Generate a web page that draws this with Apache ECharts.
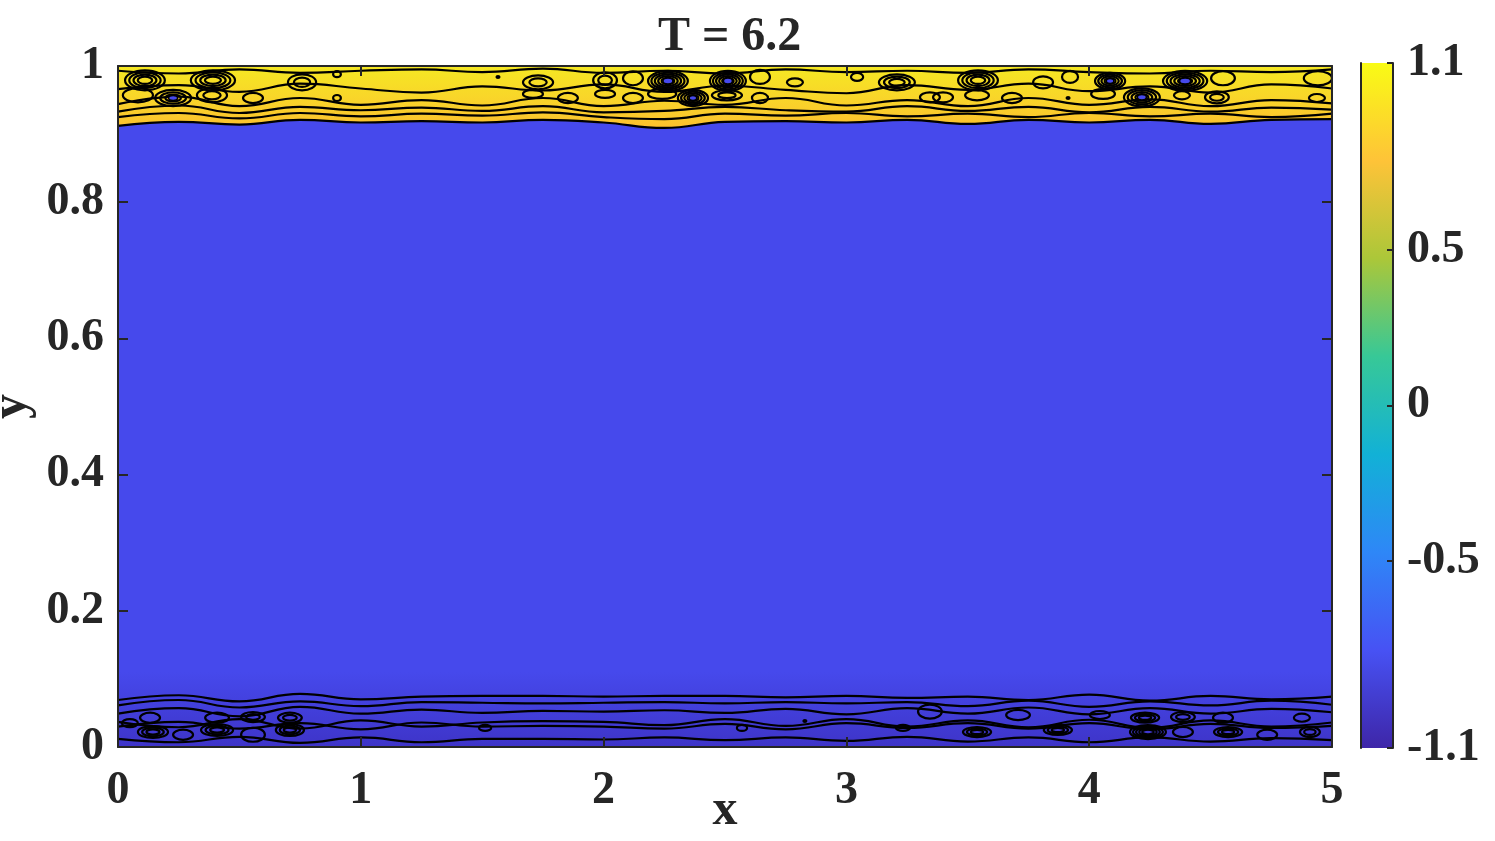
<!DOCTYPE html>
<html>
<head>
<meta charset="utf-8">
<title>T = 6.2</title>
<script src="https://cdn.jsdelivr.net/npm/echarts@6.0.0/dist/echarts.min.js"></script>
<style>
  html, body { margin: 0; padding: 0; background: #fff; }
  #chart { width: 1495px; height: 841px; }
</style>
</head>
<body>
<div id="chart"></div>
<script>
  // sample positions along x for the contour lines
  const contourX = [0, 0.25, 0.5, 0.75, 1, 1.25, 1.5, 1.75, 2, 2.25, 2.5, 2.75, 3, 3.25, 3.5, 3.75, 4, 4.25, 4.5, 4.75, 5]

  // edge of the yellow band (phi ~ 0)
  const topEdge = [0.912, 0.918, 0.914, 0.921, 0.917, 0.919, 0.917, 0.921, 0.917, 0.909, 0.918, 0.919, 0.917, 0.921, 0.915, 0.921, 0.917, 0.921, 0.915, 0.921, 0.922]
  // other contour lines in the top band
  const topLine1 = [0.925, 0.931, 0.923, 0.931, 0.926, 0.930, 0.927, 0.932, 0.925, 0.922, 0.930, 0.927, 0.931, 0.926, 0.930, 0.925, 0.931, 0.926, 0.930, 0.925, 0.930]
  const topLine2 = [0.933, 0.942, 0.931, 0.940, 0.935, 0.939, 0.934, 0.941, 0.932, 0.934, 0.940, 0.935, 0.933, 0.941, 0.934, 0.940, 0.932, 0.940, 0.933, 0.939, 0.936]
  const topLine3 = [0.944, 0.955, 0.941, 0.953, 0.943, 0.950, 0.942, 0.953, 0.941, 0.949, 0.943, 0.953, 0.942, 0.950, 0.941, 0.953, 0.943, 0.951, 0.941, 0.950, 0.945]
  const topLine4 = [0.966, 0.972, 0.962, 0.974, 0.967, 0.961, 0.970, 0.964, 0.973, 0.962, 0.971, 0.965, 0.960, 0.972, 0.965, 0.974, 0.963, 0.970, 0.961, 0.973, 0.967]
  const topLine5 = [0.993, 0.989, 0.995, 0.990, 0.993, 0.995, 0.991, 0.996, 0.990, 0.993, 0.989, 0.995, 0.991, 0.993, 0.990, 0.995, 0.991, 0.989, 0.993, 0.991, 0.995]
  // contour lines in the bottom band
  const botLine1 = [0.069, 0.076, 0.067, 0.078, 0.070, 0.074, 0.075, 0.075, 0.074, 0.075, 0.075, 0.073, 0.075, 0.072, 0.074, 0.069, 0.077, 0.068, 0.075, 0.070, 0.074]
  const botLine2 = [0.061, 0.069, 0.058, 0.067, 0.060, 0.066, 0.065, 0.064, 0.065, 0.066, 0.064, 0.066, 0.064, 0.066, 0.060, 0.068, 0.059, 0.067, 0.061, 0.068, 0.062]
  const botLine3 = [0.049, 0.057, 0.045, 0.059, 0.049, 0.055, 0.050, 0.053, 0.052, 0.054, 0.050, 0.056, 0.048, 0.057, 0.049, 0.058, 0.048, 0.057, 0.049, 0.056, 0.051]
  const botLine4 = [0.037, 0.029, 0.041, 0.027, 0.039, 0.030, 0.036, 0.038, 0.037, 0.032, 0.041, 0.031, 0.041, 0.030, 0.039, 0.029, 0.040, 0.028, 0.039, 0.030, 0.036]
  const botLine5 = [0.030, 0.037, 0.027, 0.035, 0.026, 0.036, 0.030, 0.031, 0.030, 0.027, 0.034, 0.026, 0.035, 0.028, 0.035, 0.027, 0.035, 0.026, 0.034, 0.028, 0.031]
  const botLine6 = [0.012, 0.007, 0.015, 0.006, 0.014, 0.007, 0.012, 0.012, 0.011, 0.014, 0.010, 0.014, 0.009, 0.015, 0.008, 0.014, 0.007, 0.014, 0.008, 0.013, 0.010]

  // closed contours: [x, y, half-width, half-height, rings, core (0 none, 1 blue, 2 black dot)]
  const topVortices = [
    [0.111, 0.979, 0.082, 0.0147, 4, 0], [0.227, 0.953, 0.074, 0.0118, 3, 1], [0.082, 0.957, 0.062, 0.0103, 1, 0],
    [0.391, 0.979, 0.091, 0.0147, 4, 0], [0.387, 0.957, 0.062, 0.0103, 2, 0], [0.556, 0.953, 0.041, 0.0074, 1, 0],
    [0.758, 0.976, 0.058, 0.0118, 2, 0], [0.902, 0.988, 0.016, 0.0044, 1, 0], [0.902, 0.953, 0.016, 0.0044, 1, 0],
    [1.565, 0.984, 0.008, 0.0030, 1, 2], [1.730, 0.976, 0.062, 0.0103, 2, 0], [1.709, 0.959, 0.041, 0.0059, 1, 0],
    [1.853, 0.953, 0.041, 0.0074, 1, 0], [2.006, 0.979, 0.049, 0.0118, 2, 0], [2.006, 0.959, 0.041, 0.0059, 1, 0],
    [2.121, 0.982, 0.041, 0.0103, 1, 0], [2.121, 0.953, 0.041, 0.0074, 1, 0], [2.265, 0.978, 0.082, 0.0147, 5, 1],
    [2.241, 0.959, 0.058, 0.0074, 1, 0], [2.368, 0.953, 0.062, 0.0118, 4, 1], [2.512, 0.978, 0.074, 0.0147, 5, 1],
    [2.508, 0.957, 0.062, 0.0074, 2, 0], [2.644, 0.984, 0.041, 0.0103, 1, 0], [2.644, 0.953, 0.033, 0.0074, 1, 0],
    [2.788, 0.976, 0.033, 0.0059, 1, 0], [3.044, 0.984, 0.025, 0.0059, 1, 0], [3.208, 0.976, 0.074, 0.0118, 3, 0],
    [3.344, 0.954, 0.041, 0.0074, 1, 0], [3.542, 0.979, 0.082, 0.0147, 4, 0], [3.538, 0.957, 0.049, 0.0074, 1, 0],
    [3.398, 0.954, 0.041, 0.0074, 1, 0], [3.682, 0.953, 0.041, 0.0074, 1, 0], [3.810, 0.976, 0.041, 0.0088, 1, 0],
    [3.921, 0.984, 0.033, 0.0088, 1, 0], [3.913, 0.953, 0.006, 0.0030, 1, 2], [4.086, 0.978, 0.062, 0.0118, 4, 1],
    [4.057, 0.959, 0.049, 0.0074, 1, 0], [4.217, 0.954, 0.074, 0.0133, 4, 1], [4.395, 0.978, 0.091, 0.0147, 5, 1],
    [4.382, 0.957, 0.033, 0.0059, 1, 0], [4.526, 0.954, 0.049, 0.0088, 2, 0], [4.551, 0.982, 0.049, 0.0103, 1, 0],
    [4.942, 0.982, 0.058, 0.0103, 1, 0], [4.938, 0.953, 0.033, 0.0059, 1, 0]
  ]
  const botVortices = [
    [0.132, 0.043, 0.041, 0.0074, 1, 0], [0.144, 0.022, 0.062, 0.0088, 3, 0], [0.049, 0.035, 0.033, 0.0059, 1, 0],
    [0.268, 0.018, 0.041, 0.0074, 1, 0], [0.408, 0.043, 0.049, 0.0074, 1, 0], [0.408, 0.025, 0.066, 0.0088, 3, 0],
    [0.556, 0.044, 0.049, 0.0074, 2, 0], [0.556, 0.018, 0.049, 0.0103, 1, 0], [0.708, 0.043, 0.049, 0.0074, 2, 0],
    [0.708, 0.025, 0.058, 0.0088, 3, 0], [1.512, 0.028, 0.025, 0.0044, 1, 0], [2.570, 0.028, 0.021, 0.0044, 1, 0],
    [2.829, 0.038, 0.012, 0.0030, 1, 2], [3.233, 0.028, 0.029, 0.0044, 1, 0], [3.344, 0.052, 0.049, 0.0103, 1, 0],
    [3.538, 0.022, 0.058, 0.0074, 3, 0], [3.707, 0.047, 0.049, 0.0074, 1, 0], [3.871, 0.025, 0.058, 0.0074, 3, 0],
    [4.044, 0.047, 0.041, 0.0059, 1, 0], [4.230, 0.043, 0.058, 0.0074, 3, 0], [4.242, 0.022, 0.074, 0.0103, 5, 0],
    [4.386, 0.044, 0.049, 0.0074, 2, 0], [4.386, 0.022, 0.041, 0.0074, 1, 0], [4.551, 0.043, 0.041, 0.0074, 1, 0],
    [4.572, 0.022, 0.058, 0.0074, 3, 0], [4.733, 0.018, 0.041, 0.0074, 1, 0], [4.909, 0.022, 0.041, 0.0074, 2, 0],
    [4.876, 0.043, 0.033, 0.0059, 1, 0]
  ]

  // colour bar
  const cbarMin = -1.1
  const cbarMax = 1.1
  const cbarTicks = [-1.1, -0.5, 0, 0.5, 1.1]
  const parula = ['#f9fb15', '#fec338', '#abc739', '#37c897', '#12b1d6', '#2e87f7', '#4752f4', '#3e26a8']

  const font = 'Liberation Serif, Times New Roman, serif'
  const ink = '#262626'
  const blue = '#4649ec'

  const chart = echarts.init(document.getElementById('chart'))

  function pairs(ys) {
    return contourX.map((x, i) => [x, ys[i]])
  }

  function contour(ys) {
    return {
      type: 'line',
      data: pairs(ys),
      smooth: 0.45,
      symbol: 'none',
      silent: true,
      z: 3,
      lineStyle: {color: '#000', width: 2.2}
    }
  }

  function renderVortex(params, api) {
    const c = api.coord([api.value(0), api.value(1)])
    const s = api.size([api.value(2), api.value(3)])
    const rings = api.value(4)
    const core = api.value(5)
    const children = []
    if (core === 2) {
      children.push({type: 'ellipse', shape: {cx: c[0], cy: c[1], rx: 2.5, ry: 2}, style: {fill: '#000'}})
      return {type: 'group', children}
    }
    for (let k = rings; k >= 1; k--) {
      const f = 0.15 + 0.85 * k / rings
      children.push({
        type: 'ellipse',
        shape: {cx: c[0], cy: c[1], rx: s[0] * f, ry: s[1] * f},
        style: {fill: 'none', stroke: '#000', lineWidth: 2.2}
      })
    }
    if (core === 1) {
      children.push({
        type: 'ellipse',
        shape: {cx: c[0], cy: c[1], rx: s[0] * 0.25, ry: s[1] * 0.3},
        style: {fill: blue, stroke: '#000', lineWidth: 1.5}
      })
    }
    return {type: 'group', children}
  }

  function renderBar(params, api) {
    const p0 = api.coord([0, api.value(1)])
    const p1 = api.coord([1, api.value(0)])
    return {
      type: 'rect',
      shape: {x: p0[0], y: p0[1], width: p1[0] - p0[0], height: p1[1] - p0[1]},
      style: {
        fill: new echarts.graphic.LinearGradient(0, 0, 0, 1,
          parula.map((c, i) => ({offset: i / (parula.length - 1), color: c})))
      }
    }
  }

  const tickFont = {fontFamily: font, fontWeight: 'bold', fontSize: 46, color: ink}

  const option = {
    animation: false,
    title: {
      text: 'T = 6.2',
      left: 653,
      top: 9,
      textStyle: {fontFamily: font, fontWeight: 'bold', fontSize: 48, color: ink}
    },
    grid: [
      {
        left: 118, right: 163, top: 66, bottom: 94,
        outerBoundsMode: 'none',
        containLabel: false,
        show: true,
        borderWidth: 0,
        backgroundColor: new echarts.graphic.LinearGradient(0, 0, 0, 1, [
          {offset: 0, color: blue},
          {offset: 0.89, color: blue},
          {offset: 1, color: '#3e34c8'}
        ])
      },
      {left: 1361, width: 32, top: 63, bottom: 93, show: false, outerBoundsMode: 'none', containLabel: false}
    ],
    xAxis: [
      {
        type: 'value', gridIndex: 0, min: 0, max: 5, interval: 1, z: 10,
        name: 'x', nameLocation: 'middle', nameGap: 39, nameMoveOverlap: false,
        nameTextStyle: {fontFamily: font, fontWeight: 'bold', fontSize: 50, color: ink},
        axisLine: {show: true, onZero: false, lineStyle: {color: ink, width: 2}},
        axisTick: {show: true, inside: true, length: 10, lineStyle: {color: ink, width: 2}},
        axisLabel: Object.assign({margin: 21}, tickFont),
        splitLine: {show: false}
      },
      {
        type: 'value', gridIndex: 0, min: 0, max: 5, interval: 1, position: 'top', z: 10,
        axisLine: {show: true, onZero: false, lineStyle: {color: ink, width: 2}},
        axisTick: {show: true, inside: true, length: 10, lineStyle: {color: ink, width: 2}},
        axisLabel: {show: false},
        splitLine: {show: false}
      },
      {type: 'value', gridIndex: 1, min: 0, max: 1, show: false}
    ],
    yAxis: [
      {
        type: 'value', gridIndex: 0, min: 0, max: 1, interval: 0.2, z: 10,
        name: 'y', nameLocation: 'middle', nameGap: 81, nameRotate: 90, nameMoveOverlap: false,
        nameTextStyle: {fontFamily: font, fontWeight: 'bold', fontSize: 50, color: ink},
        axisLine: {show: true, onZero: false, lineStyle: {color: ink, width: 2}},
        axisTick: {show: true, inside: true, length: 10, lineStyle: {color: ink, width: 2}},
        axisLabel: Object.assign({margin: 14, padding: [6, 0, 0, 0]}, tickFont),
        splitLine: {show: false}
      },
      {
        type: 'value', gridIndex: 0, min: 0, max: 1, interval: 0.2, position: 'right', z: 10,
        axisLine: {show: true, onZero: false, lineStyle: {color: ink, width: 2}},
        axisTick: {show: true, inside: true, length: 10, lineStyle: {color: ink, width: 2}},
        axisLabel: {show: false},
        splitLine: {show: false}
      },
      {
        type: 'value', gridIndex: 1, min: cbarMin, max: cbarMax, position: 'right', z: 10,
        axisLine: {show: true, onZero: false, lineStyle: {color: ink, width: 2}},
        axisTick: {show: true, inside: true, length: 6, customValues: cbarTicks, lineStyle: {color: ink, width: 2}},
        axisLabel: Object.assign({margin: 14, padding: [10, 0, 0, 0], customValues: cbarTicks}, tickFont),
        splitLine: {show: false}
      },
      {
        type: 'value', gridIndex: 1, min: cbarMin, max: cbarMax, position: 'left', z: 10,
        axisLine: {show: true, onZero: false, lineStyle: {color: ink, width: 2}},
        axisTick: {show: false},
        axisLabel: {show: false},
        splitLine: {show: false}
      }
    ],
    series: [
      {
        type: 'line',
        data: pairs(topEdge),
        smooth: 0.45,
        symbol: 'none',
        silent: true,
        z: 2,
        lineStyle: {color: '#000', width: 2.2},
        areaStyle: {
          origin: 'end',
          opacity: 1,
          color: new echarts.graphic.LinearGradient(0, 0, 0, 1, [
            {offset: 0, color: '#f5e823'},
            {offset: 0.55, color: '#f9d42a'},
            {offset: 1, color: '#fcc02e'}
          ])
        }
      },
      contour(topLine1), contour(topLine2), contour(topLine3), contour(topLine4), contour(topLine5),
      contour(botLine1), contour(botLine2), contour(botLine3), contour(botLine4), contour(botLine5), contour(botLine6),
      {type: 'custom', renderItem: renderVortex, data: topVortices, clip: true, silent: true, z: 4},
      {type: 'custom', renderItem: renderVortex, data: botVortices, clip: true, silent: true, z: 4},
      {
        type: 'custom', xAxisIndex: 2, yAxisIndex: 2, renderItem: renderBar,
        data: [[cbarMin, cbarMax]], silent: true, z: 2
      }
    ]
  }

  chart.setOption(option)
  window.addEventListener('resize', () => chart.resize())
</script>
</body>
</html>
